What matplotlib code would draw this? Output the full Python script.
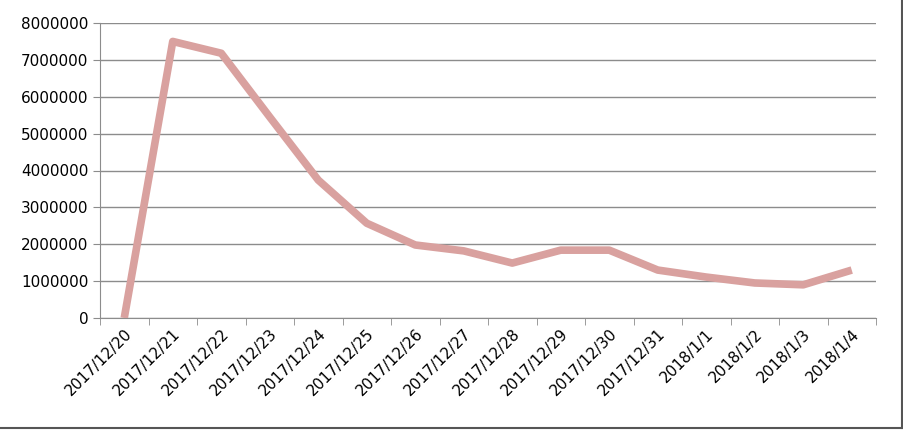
import numpy as np
import matplotlib.pyplot as plt
from matplotlib.lines import Line2D

dates = ["2017/12/20", "2017/12/21", "2017/12/22", "2017/12/23", "2017/12/24",
         "2017/12/25", "2017/12/26", "2017/12/27", "2017/12/28", "2017/12/29",
         "2017/12/30", "2017/12/31", "2018/1/1", "2018/1/2", "2018/1/3", "2018/1/4"]
values = [0, 7500000, 7180000, 5450000, 3740000, 2570000, 1980000, 1820000,
          1490000, 1840000, 1840000, 1300000, 1110000, 950000, 900000, 1300000]

fig = plt.figure(figsize=(9.04, 4.30), dpi=100)
ax = fig.add_axes([100 / 904, 1 - 318 / 430, 776 / 904, 295 / 430])

x = np.arange(len(dates))
ax.plot(x, values, color="#d9a19f", lw=5.5, solid_capstyle="butt",
        solid_joinstyle="round", zorder=3)

ax.set_xlim(-0.5, len(dates) - 0.5)
ax.set_ylim(0, 8000000)
ax.set_yticks(np.arange(0, 8000001, 1000000))
ax.set_yticklabels([str(v) for v in range(0, 8000001, 1000000)], fontsize=11)
ax.yaxis.grid(True, color="#8c8c8c", lw=1)
ax.set_axisbelow(True)

ax.set_xticks(x)
ax.set_xticklabels(dates, rotation=45, ha="right", rotation_mode="anchor", fontsize=11)
ax.tick_params(axis="x", length=0, pad=6)
ax.set_xticks(np.arange(-0.5, len(dates)), minor=True)
ax.tick_params(axis="x", which="minor", length=5, color="#8c8c8c")
ax.tick_params(axis="y", length=5, color="#8c8c8c")

for s in ["top", "right"]:
    ax.spines[s].set_visible(False)
for s in ["left", "bottom"]:
    ax.spines[s].set_color("#8c8c8c")

# frame edges on right and bottom of the image
fig.lines.append(Line2D([902 / 904, 902 / 904], [2 / 430, 1], transform=fig.transFigure,
                        color="#555555", lw=1.5))
fig.lines.append(Line2D([0, 902 / 904], [2 / 430, 2 / 430], transform=fig.transFigure,
                        color="#555555", lw=1.5))

fig.savefig("out.png", dpi=100)
